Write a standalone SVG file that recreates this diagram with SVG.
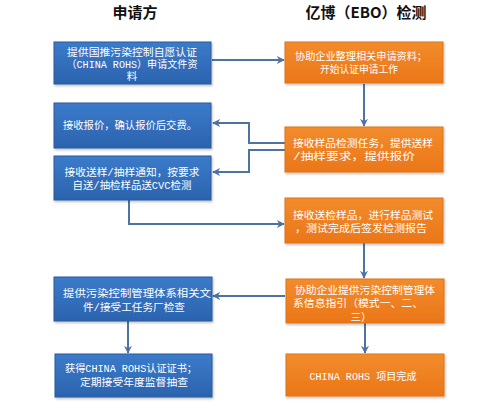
<svg xmlns="http://www.w3.org/2000/svg" width="504" height="415" viewBox="0 0 504 415">
<defs>
<linearGradient id="gb" x1="0" y1="0" x2="0" y2="1">
<stop offset="0" stop-color="#3b7bca"/>
<stop offset="1" stop-color="#2b63ae"/>
</linearGradient>
<linearGradient id="go" x1="0" y1="0" x2="0" y2="1">
<stop offset="0" stop-color="#f28c2c"/>
<stop offset="1" stop-color="#eb7618"/>
</linearGradient>
<filter id="sh" x="-10%" y="-10%" width="120%" height="130%">
<feDropShadow dx="1" dy="1.5" stdDeviation="1" flood-color="#000" flood-opacity="0.25"/>
</filter>
<marker id="ah" viewBox="0 0 10 10" refX="9" refY="5" markerWidth="4" markerHeight="4" orient="auto" markerUnits="strokeWidth">
<path d="M0,0 L10,5 L0,10 L3,5 z" fill="#4f72a5"/>
</marker>
<style>
.title{font-family:"Noto Sans CJK SC","Noto Sans",sans-serif;font-size:15px;font-weight:bold;fill:#111;text-anchor:middle}
.bb{fill:url(#gb);stroke:#2a5a9c;stroke-width:1;filter:url(#sh)}
.ob{fill:url(#go);stroke:#e07414;stroke-width:1;filter:url(#sh)}
.t{font-family:"Liberation Mono","Noto Sans CJK SC",monospace;font-size:10.5px;fill:#fff;text-anchor:middle}
.c{fill:none;stroke:#4f72a5;stroke-width:2;marker-end:url(#ah)}
</style>
</defs>
<rect width="504" height="415" fill="#fff"/>
<text class="title" x="135" y="18">申请方</text>
<text class="title" x="366" y="18">亿博（EBO）检测</text>

<g id="connectors">
<path class="c" d="M212,60 H284"/>
<path class="c" d="M364,84 V126"/>
<path class="c" d="M285,143 H249 V123 H213"/>
<path class="c" d="M285,150 H249 V172 H213"/>
<path class="c" d="M129,200 V224 H284"/>
<path class="c" d="M364,243 V278"/>
<path class="c" d="M285,296 H213"/>
<path class="c" d="M128,321 V353"/>
<path class="c" d="M365,323 V353"/>
</g>

<g id="b1">
<rect class="bb" x="54" y="42" width="157" height="42"/>
<text class="t" x="132" y="56" textLength="130" lengthAdjust="spacingAndGlyphs">提供国推污染控制自愿认证</text>
<text class="t" x="132" y="68" textLength="131" lengthAdjust="spacingAndGlyphs">（CHINA ROHS）申请文件资</text>
<text class="t" x="132" y="80">料</text>
</g>
<g id="o1">
<rect class="ob" x="285" y="42" width="158" height="41"/>
<text class="t" x="361" y="60" textLength="132" lengthAdjust="spacingAndGlyphs">协助企业整理相关申请资料；</text>
<text class="t" x="359" y="73" textLength="78" lengthAdjust="spacingAndGlyphs">开始认证申请工作</text>
</g>
<g id="b2">
<rect class="bb" x="54" y="103" width="157" height="45"/>
<text class="t" x="130" y="129" textLength="134" lengthAdjust="spacingAndGlyphs">接收报价，确认报价后交费。</text>
</g>
<g id="o2">
<rect class="ob" x="285" y="127" width="158" height="45"/>
<text class="t" x="363" y="147" textLength="140" lengthAdjust="spacingAndGlyphs">接收样品检测任务，提供送样</text>
<text class="t" x="354" y="160" textLength="122" lengthAdjust="spacingAndGlyphs">/抽样要求，提供报价</text>
</g>
<g id="b3">
<rect class="bb" x="54" y="156" width="157" height="44"/>
<text class="t" x="132" y="176" textLength="135" lengthAdjust="spacingAndGlyphs">接收送样/抽样通知，按要求</text>
<text class="t" x="132" y="189" textLength="119" lengthAdjust="spacingAndGlyphs">自送/抽检样品送CVC检测</text>
</g>
<g id="o3">
<rect class="ob" x="285" y="198" width="158" height="45"/>
<text class="t" x="363" y="219" textLength="140" lengthAdjust="spacingAndGlyphs">接收送检样品，进行样品测试</text>
<text class="t" x="361" y="232" textLength="132" lengthAdjust="spacingAndGlyphs">，测试完成后签发检测报告</text>
</g>
<g id="b4">
<rect class="bb" x="54" y="277" width="158" height="44"/>
<text class="t" x="137" y="297" textLength="148" lengthAdjust="spacingAndGlyphs">提供污染控制管理体系相关文</text>
<text class="t" x="134" y="311" textLength="102" lengthAdjust="spacingAndGlyphs">件/接受工任务厂检查</text>
</g>
<g id="o4">
<rect class="ob" x="286" y="279" width="158" height="44"/>
<text class="t" x="365" y="294" textLength="140" lengthAdjust="spacingAndGlyphs">协助企业提供污染控制管理体</text>
<text class="t" x="358" y="307" textLength="130" lengthAdjust="spacingAndGlyphs">系信息指引（模式一、二、</text>
<text class="t" x="361" y="321">三）</text>
</g>
<g id="b5">
<rect class="bb" x="55" y="354" width="157" height="43"/>
<text class="t" x="131" y="372" textLength="132" lengthAdjust="spacingAndGlyphs">获得CHINA ROHS认证证书；</text>
<text class="t" x="134" y="386" textLength="108" lengthAdjust="spacingAndGlyphs">定期接受年度监督抽查</text>
</g>
<g id="o5">
<rect class="ob" x="286" y="354" width="158" height="42"/>
<text class="t" x="363" y="380" textLength="107" lengthAdjust="spacingAndGlyphs">CHINA ROHS 项目完成</text>
</g>
</svg>
